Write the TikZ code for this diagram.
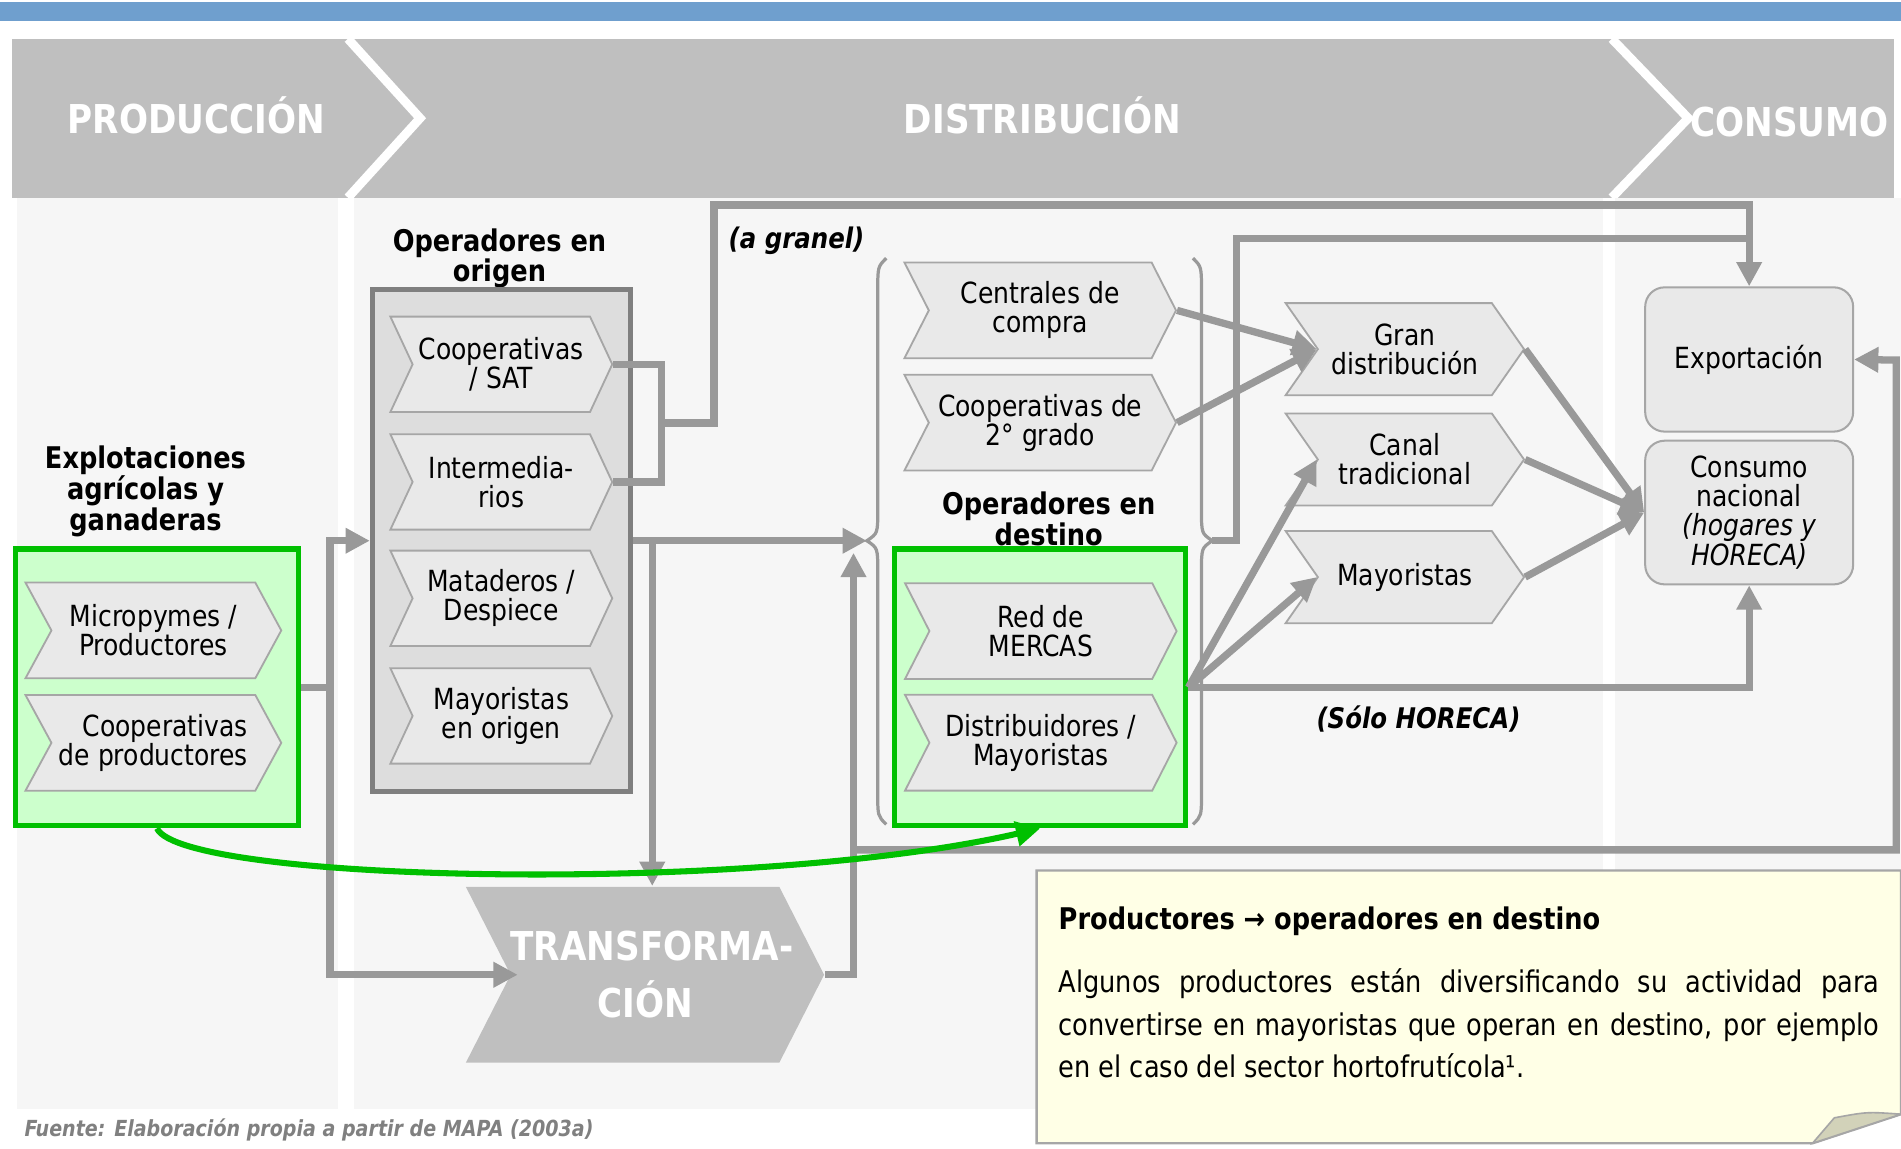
\documentclass[tikz,border=0pt]{standalone}
\usepackage{fontspec}
\setmainfont{DejaVu Sans}[FakeStretch=0.86]
\usetikzlibrary{arrows.meta,shapes.symbols}

\definecolor{barblue}{RGB}{111,159,206}
\definecolor{bandgray}{RGB}{191,191,191}
\definecolor{panelgray}{RGB}{246,246,246}
\definecolor{linegray}{RGB}{153,153,153}
\definecolor{chevfill}{RGB}{233,233,233}
\definecolor{chevline}{RGB}{166,166,166}
\definecolor{boxfill}{RGB}{221,221,221}
\definecolor{boxline}{RGB}{127,127,127}
\definecolor{grnline}{RGB}{0,192,0}
\definecolor{grnfill}{RGB}{204,255,204}
\definecolor{notefill}{RGB}{255,255,230}
\definecolor{foldfill}{RGB}{210,210,185}
\definecolor{srcgray}{RGB}{128,128,128}

\tikzset{
  chev/.style={signal, signal from=west, signal to=east, signal pointer angle=126,
    fill=chevfill, draw=chevline, line width=0.045cm, inner sep=0pt, align=center,
    font=\fontsize{20.5}{20.5}\selectfont},
  hdr/.style={text=white, font=\fontsize{28}{28}\selectfont\bfseries},
  lbl/.style={align=center, font=\fontsize{21}{19.6}\selectfont\bfseries},
  paren/.style={font=\fontsize{20}{20}\selectfont\bfseries\itshape},
  grnbox/.style={draw=grnline, fill=grnfill, line width=0.135cm, minimum height=6.84cm},
  rbox/.style={rounded corners=0.48cm, fill=chevfill, draw=chevline, line width=0.05cm,
    minimum width=5.145cm, align=center, font=\fontsize{20.5}{20.5}\selectfont},
  conn/.style={draw=linegray, line width=0.18cm},
  arr/.style={conn, -{Triangle[length=0.6cm,width=0.6cm]}},
  brace/.style={draw=linegray, line width=0.08cm},
}

\begin{document}
\begin{tikzpicture}[x=0.03cm, y=-0.03cm]
  \useasboundingbox (0,0) rectangle (1568,947);
  % top bar, stage band and columns
  \fill[barblue] (0,1.5) rectangle (1568,17.5);
  \fill[bandgray] (10,32) rectangle (1562,163);
  \begin{scope}
    \clip (10,32) rectangle (1562,163);
    \draw[white, line width=0.22cm] (287,32) -- (346.5,97.5) -- (287,163);
    \draw[white, line width=0.22cm] (1329.5,32) -- (1392.5,97.5) -- (1329.5,163);
  \end{scope}
  \fill[panelgray] (14,163) rectangle (279,915);
  \fill[panelgray] (292,163) rectangle (1322,915);
  \fill[panelgray] (1332,163) rectangle (1568,915);
  \node[hdr] (prod) at (162,95) {PRODUCCIÓN};
  \node[hdr] (dist) at (860,95) {DISTRIBUCIÓN};
  \node[hdr] (cons) at (1476,101) {CONSUMO};

  % producers
  \node[lbl] (lexpl) at (120,405) {Explotaciones\\agrícolas y\\ganaderas};
  \node[grnbox, minimum width=6.99cm] (expl) at (129.5,567) {};
  \node[chev, signal pointer angle=123, minimum width=6.33cm, minimum height=2.37cm] (micro) at (126.5,520) {Micropymes /\\Productores};
  \node[chev, signal pointer angle=123, minimum width=6.33cm, minimum height=2.37cm, align=right] (coopprod) at (126.5,612.7) {Cooperativas\\de productores};

  % operators at origin
  \node[lbl] (lorig) at (412,213) {Operadores en\\origen};
  \node[fill=boxfill, draw=boxline, line width=0.12cm, minimum width=6.39cm, minimum height=12.42cm] (orig) at (413.5,446) {};
  \node[chev, signal pointer angle=130, minimum width=5.49cm, minimum height=2.36cm] (coopsat) at (413.5,300.5) {Cooperativas\\/ SAT};
  \node[chev, signal pointer angle=130, minimum width=5.49cm, minimum height=2.36cm] (interm) at (413.5,397.5) {Intermedia-\\rios};
  \node[chev, signal pointer angle=130, minimum width=5.49cm, minimum height=2.36cm] (matad) at (413.5,493.5) {Mataderos /\\Despiece};
  \node[chev, signal pointer angle=130, minimum width=5.49cm, minimum height=2.36cm] (mayorig) at (413.5,590.5) {Mayoristas\\en origen};

  \node[chev, fill=bandgray, draw=none, text=white, font=\fontsize{28}{40}\selectfont\bfseries, minimum width=8.64cm, minimum height=4.35cm] (transf) at (532,804) {TRANSFORMA\rlap{-}\\CIÓN};

  % operators at destination
  \node[chev, minimum width=6.72cm, minimum height=2.37cm] (centr) at (858,256) {Centrales de\\compra};
  \node[chev, minimum width=6.72cm, minimum height=2.37cm] (coop2) at (858,348.6) {Cooperativas de\\2° grado};
  \node[lbl] (ldest) at (865,428) {Operadores en\\destino};
  \node[grnbox, minimum width=7.2cm] (destbox) at (858,567) {};
  \node[chev, minimum width=6.72cm, minimum height=2.37cm] (mercas) at (858.5,520.5) {Red de\\MERCAS};
  \node[chev, minimum width=6.72cm, minimum height=2.37cm] (distrib) at (858.5,612.6) {Distribuidores /\\Mayoristas};
  \draw[brace] (731,213) .. controls (724,220) .. (724,240) -- (724,420) .. controls (724,440) .. (715,446)
    .. controls (724,452) .. (724,472) -- (724,655) .. controls (724,673) .. (731,680);
  \draw[brace] (984,213) .. controls (991,220) .. (991,240) -- (991,420) .. controls (991,440) .. (1000,446)
    .. controls (991,452) .. (991,472) -- (991,655) .. controls (991,673) .. (984,680);
  \coordinate (bl) at (715,446); \coordinate (br) at (1000,446);

  % retail channels and consumption
  \node[chev, signal pointer angle=110, minimum width=5.9cm, minimum height=2.28cm] (gran) at (1158.75,288) {Gran\\distribución};
  \node[chev, signal pointer angle=110, minimum width=5.9cm, minimum height=2.28cm] (canal) at (1158.75,379) {Canal\\tradicional};
  \node[chev, signal pointer angle=110, minimum width=5.9cm, minimum height=2.28cm] (mayor) at (1158.75,476) {Mayoristas};
  \node[rbox, minimum height=3.57cm] (export) at (1442.75,296.5) {Exportación};
  \node[rbox, minimum height=3.555cm] (consumo) at (1442.75,422.75) {Consumo\\nacional\\\textit{(hogares y}\\\textit{HORECA)}};

  \node[paren] (lgranel) at (657,199) {(a granel)};
  \node[paren] (lhoreca) at (1170,593) {(Sólo HORECA)};

  % connectors
  \draw[arr] (expl.east) -- ++(24,0) |- (orig.west);
  \draw[arr] (expl.east) -- ++(24,0) |- ([xshift=0.2cm]transf.west);
  \draw[conn] (coopsat.east) -- ++(40,0) |- (interm.east);
  \coordinate (cj) at (545,349); \coordinate (top1) at (589,169);
  \draw[arr] (cj) -| (top1) -| (export.north);
  \draw[arr] (orig.east) -- (bl);
  \coordinate (tj) at (538,446);
  \draw[arr] (tj) -- (tj |- transf.north);
  \coordinate (tup) at (704,456); \coordinate (rj) at (704,701); \coordinate (rc) at (1564,297);
  \draw[arr] (transf.east) -| (tup);
  \draw[arr] (rj) -| (rc) -- (export.east);
  \coordinate (bj) at (1020,197);
  \draw[conn] (br) -| (bj) -- (bj -| export.north);
  \draw[arr] (centr.east) -- (gran.west); \draw[arr] (coop2.east) -- (gran.west);
  \draw[arr] (gran.east) -- (consumo.west); \draw[arr] (canal.east) -- (consumo.west); \draw[arr] (mayor.east) -- (consumo.west);
  \draw[arr] (destbox.east) -- (canal.west); \draw[arr] (destbox.east) -- (mayor.west);
  \draw[arr] (destbox.east) -| (consumo.south);
  \draw[draw=grnline, line width=0.15cm, -{Triangle[length=0.6cm,width=0.6cm]}] (expl.south) .. controls (150,728) and (620,738) .. (destbox.south);

  % note
  \draw[draw=chevline, fill=notefill, line width=0.06cm] (855,718) -- (1568,718) -- (1568,919) -- (1495,943) -- (855,943) -- cycle;
  \draw[draw=chevline, fill=foldfill, line width=0.04cm] (1495,943) -- (1513,922) .. controls (1540,917) .. (1568,919) -- cycle;
  \node[anchor=base west, inner sep=0pt, font=\fontsize{21}{21}\selectfont\bfseries] (ntitle) at (873,767) {Productores → operadores en destino};
  \node[anchor=north west, inner sep=0pt, align=left, font=\fontsize{21}{29.9}\selectfont] (ntext) at (873,799)
    {\makebox[20.31cm][s]{Algunos productores están diversificando su actividad para}\\
     \makebox[20.31cm][s]{convertirse en mayoristas que operan en destino, por ejemplo}\\
     en el caso del sector hortofrutícola¹.};
  \node[anchor=west, inner sep=0pt, text=srcgray, font=\fontsize{15.6}{15.6}\selectfont\bfseries\itshape] (src) at (20,932) {Fuente: Elaboración propia a partir de MAPA (2003a)};
\end{tikzpicture}
\end{document}
